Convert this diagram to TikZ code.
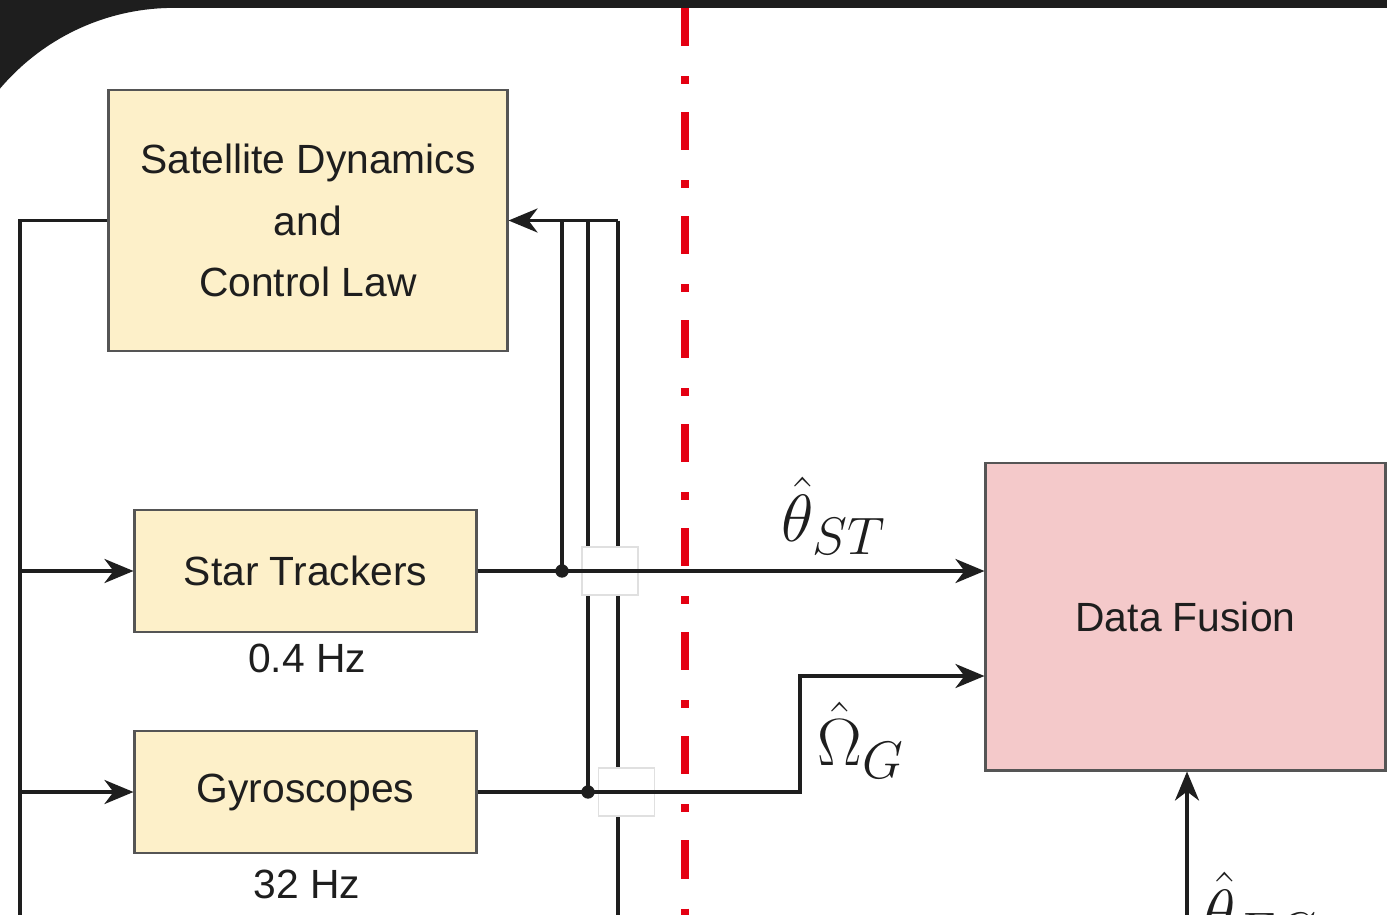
\documentclass[tikz,border=0pt]{standalone}
\usepackage{fix-cm}
\usepackage[no-math]{fontspec}
\newfontfamily\diagfont{Liberation Sans}
\usepackage{tikz}
\usetikzlibrary{arrows.meta,calc}
\DeclareMathSizes{19}{19}{15}{11}
\definecolor{slidedark}{RGB}{30,30,30}
\definecolor{boxyellow}{RGB}{253,240,201}
\definecolor{boxpink}{RGB}{244,201,202}
\definecolor{boxedge}{RGB}{85,85,85}
\definecolor{textdark}{RGB}{30,30,30}
\definecolor{splitred}{RGB}{228,0,18}

\begin{document}
\begin{tikzpicture}[
    x=0.01cm, y=-0.01cm,
    box/.style={rectangle, draw=boxedge, line width=0.8pt, fill=boxyellow,
                align=center, text=textdark, inner sep=0pt,
                font=\diagfont\fontsize{11.6}{17.6}\selectfont},
    fusion_box/.style={box, fill=boxpink},
    rate_label/.style={inner sep=0pt, text=textdark,
                font=\diagfont\fontsize{11.6}{14}\selectfont},
    sig_label/.style={inner sep=0pt, anchor=base west, text=textdark,
                font=\fontsize{19}{22}\selectfont},
    bridge/.style={rectangle, draw=black!12, line width=0.3pt, fill=white,
                minimum width=0.56cm, minimum height=0.48cm, inner sep=0pt},
    line/.style={draw=slidedark, line width=1.05pt},
    arrow/.style={line, -{Stealth[length=2.9mm, width=2.4mm, inset=0.9mm]}},
    split/.style={draw=splitred, line width=2pt,
                dash pattern=on 0.38cm off 0.30cm on 0.08cm off 0.28cm}
]

% ================= FRAME =================
\useasboundingbox (0,0) rectangle (1387,915);
\clip (0,0) rectangle (1387,915);
\fill[white] (0,0) rectangle (1387,915);
\fill[slidedark] (0,0) rectangle (1387,8);
\fill[slidedark] (-54,236) arc[start angle=180, end angle=90, radius=2.28cm]
    -- (-54,8) -- cycle;

% ================= COORDINATES & NODES =================
% Blocks
\node[box, minimum width=3.98cm, minimum height=2.61cm] (Sat) at (308,220.5)
    {Satellite Dynamics\\and\\Control Law};
\node[box, minimum width=3.41cm, minimum height=1.22cm] (Star) at (305.5,571) {Star Trackers};
\node[box, minimum width=3.41cm, minimum height=1.22cm] (Gyro) at (305.5,792) {Gyroscopes};
\node[fusion_box, minimum width=3.99cm, minimum height=3.07cm] (Fusion) at (1185.5,616.5) {Data Fusion};

% Sample rates
\node[rate_label] (RateST) at (307,658) {0.4 Hz};
\node[rate_label] (RateG) at (307,884) {32 Hz};

% Helper points
\coordinate (LeftTop) at (20,220.5);
\coordinate (LeftBot) at (20,960);
\coordinate (FbTop) at (618,220.5);
\coordinate (FbBot) at (618,960);
\coordinate (TapST) at (562,571);
\coordinate (TapG) at (588,792);
\coordinate (GBend) at (800,676);
\coordinate (EcIn) at (1187,960);

% ================= DRAWING LINES =================
% Attitude feedback bus
\draw[arrow] (FbTop) -- (Sat.east);
\draw[line] (TapST |- FbTop) -- (TapST);
\draw[line] (TapG |- FbTop) -- (TapG);
\draw[line] (FbTop) -- (FbBot);

% Crossings
\node[bridge] (BridgeST) at (610,571) {};
\node[bridge] (BridgeG) at (626.5,792) {};

% Sensor inputs
\draw[line] (Sat.west) -- (LeftTop) -- (LeftBot);
\draw[arrow] (LeftTop |- Star.west) -- (Star.west);
\draw[arrow] (LeftTop |- Gyro.west) -- (Gyro.west);

% Measurements to the fusion block
\draw[arrow] (Star.east) -- (Star.east -| Fusion.west);
\draw[arrow] (Gyro.east) -| (GBend) -- (GBend -| Fusion.west);
\draw[arrow] (EcIn) -- (EcIn |- Fusion.south);
\fill[slidedark] (TapST) circle (1.9pt);
\fill[slidedark] (TapG) circle (1.9pt);

% Signal names
\node[sig_label] (LblST) at (781,541) {$\hat{\theta}_{ST}$};
\node[sig_label] (LblG) at (817,765) {$\hat{\Omega}_{G}$};
\node[sig_label] (LblEC) at (1203,936) {$\hat{\theta}_{EC}$};

% Split line
\draw[split] (685,8) -- (685,915);

\end{tikzpicture}
\end{document}
